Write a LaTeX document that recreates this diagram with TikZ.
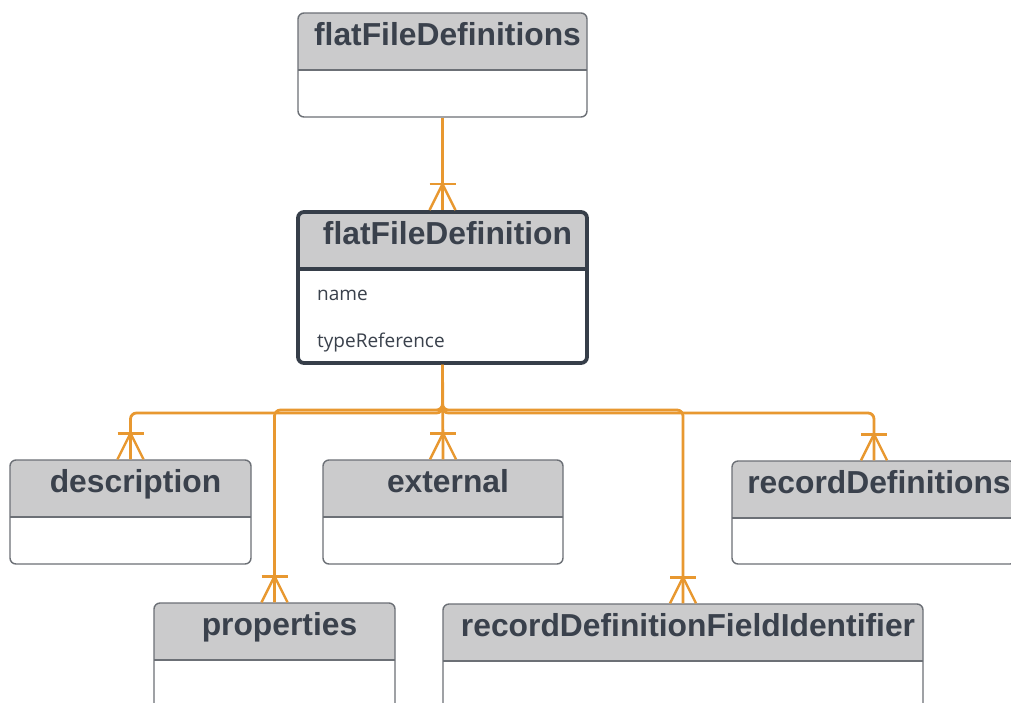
\documentclass[tikz,border=0pt]{standalone}
\usepackage{fontspec}
\setmainfont{Liberation Sans}
\newfontfamily\attrfont{Open Sans}
\usetikzlibrary{fit,calc}
\definecolor{hdr}{RGB}{203,203,204}
\definecolor{boxgray}{RGB}{108,112,118}
\definecolor{maindark}{RGB}{54,62,73}
\definecolor{textdark}{RGB}{58,65,76}
\definecolor{orangec}{RGB}{232,152,48}
\tikzset{
  rel/.style={draw=orangec, line width=2.8pt},
  crow/.style={draw=orangec, line width=2.4pt},
  boxline/.style={draw=boxgray, line width=1.4pt},
  mainline/.style={draw=maindark, line width=3.8pt},
  ttl/.style={font=\fontsize{31.8}{36}\selectfont\bfseries, text=textdark, inner sep=0pt, anchor=base},
  attr/.style={font=\attrfont\fontsize{19}{22}\selectfont, text=textdark, inner sep=0pt, anchor=base west},
}
\newcommand\erbox[8]{%
  \fill[white, rounded corners=6pt] (#2,#3) rectangle (#4,#6);
  \begin{scope}
    \clip (#2,#3) rectangle (#4,#5);
    \fill[hdr, rounded corners=6pt] (#2,#3) rectangle (#4,#6);
  \end{scope}
  \draw[#8] (#2,#5) -- (#4,#5);
  \node[fit={(#2,#3)(#4,#6)}, inner sep=0pt, rounded corners=6pt, #8] (#1) {};
  \node[ttl] (#1-title) at ($(#2,#3)!0.5!(#4,#3)+(5,32)$) {#7};
}
\newcommand\crowfoot[1]{%
  \draw[crow] ([xshift=-13pt]#1) -- ([yshift=26pt]#1) -- ([xshift=13pt]#1);
  \draw[crow] ([xshift=-13pt,yshift=26pt]#1) -- ([xshift=13pt,yshift=26pt]#1);
}
\begin{document}
\begin{tikzpicture}[x=1pt,y=-1pt]
\useasboundingbox (0,0) rectangle (1011,702);
\clip (0,0) rectangle (1011,702);
\fill[white] (0,0) rectangle (1011,702);

% entities
\erbox{ffds}{298}{13}{587}{70}{117}{flatFileDefinitions}{boxline}
\erbox{ffd}{298}{212}{587}{269}{363}{flatFileDefinition}{mainline}
\node[attr] (nm) at (317,300) {name};
\node[attr] (tr) at (317,347) {typeReference};
\erbox{desc}{10}{460}{251}{517}{564}{description}{boxline}
\erbox{ext}{323}{460}{563}{517}{564}{external}{boxline}
\erbox{recd}{732}{461}{1016}{518}{564}{recordDefinitions}{boxline}
\erbox{props}{154}{603}{395}{660}{740}{properties}{boxline}
\erbox{rdfi}{443}{604}{923}{661}{740}{recordDefinitionFieldIdentifier}{boxline}

% connectors
\coordinate (busA) at (443,413);
\coordinate (busB) at (443,410);
\draw[rel] (ffds.south) -- (ffd.north);
\draw[rel, rounded corners=6pt] (ffd.south) -- (ffd.south |- busA) -| (desc.north);
\draw[rel, rounded corners=6pt] (ffd.south) -- (ffd.south |- busA) -| (recd.north);
\draw[rel, rounded corners=6pt] (ffd.south) -- (ffd.south |- busB) -| (props.north);
\draw[rel, rounded corners=6pt] (ffd.south) -- (ffd.south |- busB) -| (rdfi.north);
\draw[rel] (ffd.south) -- (ext.north);

\crowfoot{ffd.north}
\crowfoot{desc.north}
\crowfoot{ext.north}
\crowfoot{recd.north}
\crowfoot{props.north}
\crowfoot{rdfi.north}
\end{tikzpicture}
\end{document}
